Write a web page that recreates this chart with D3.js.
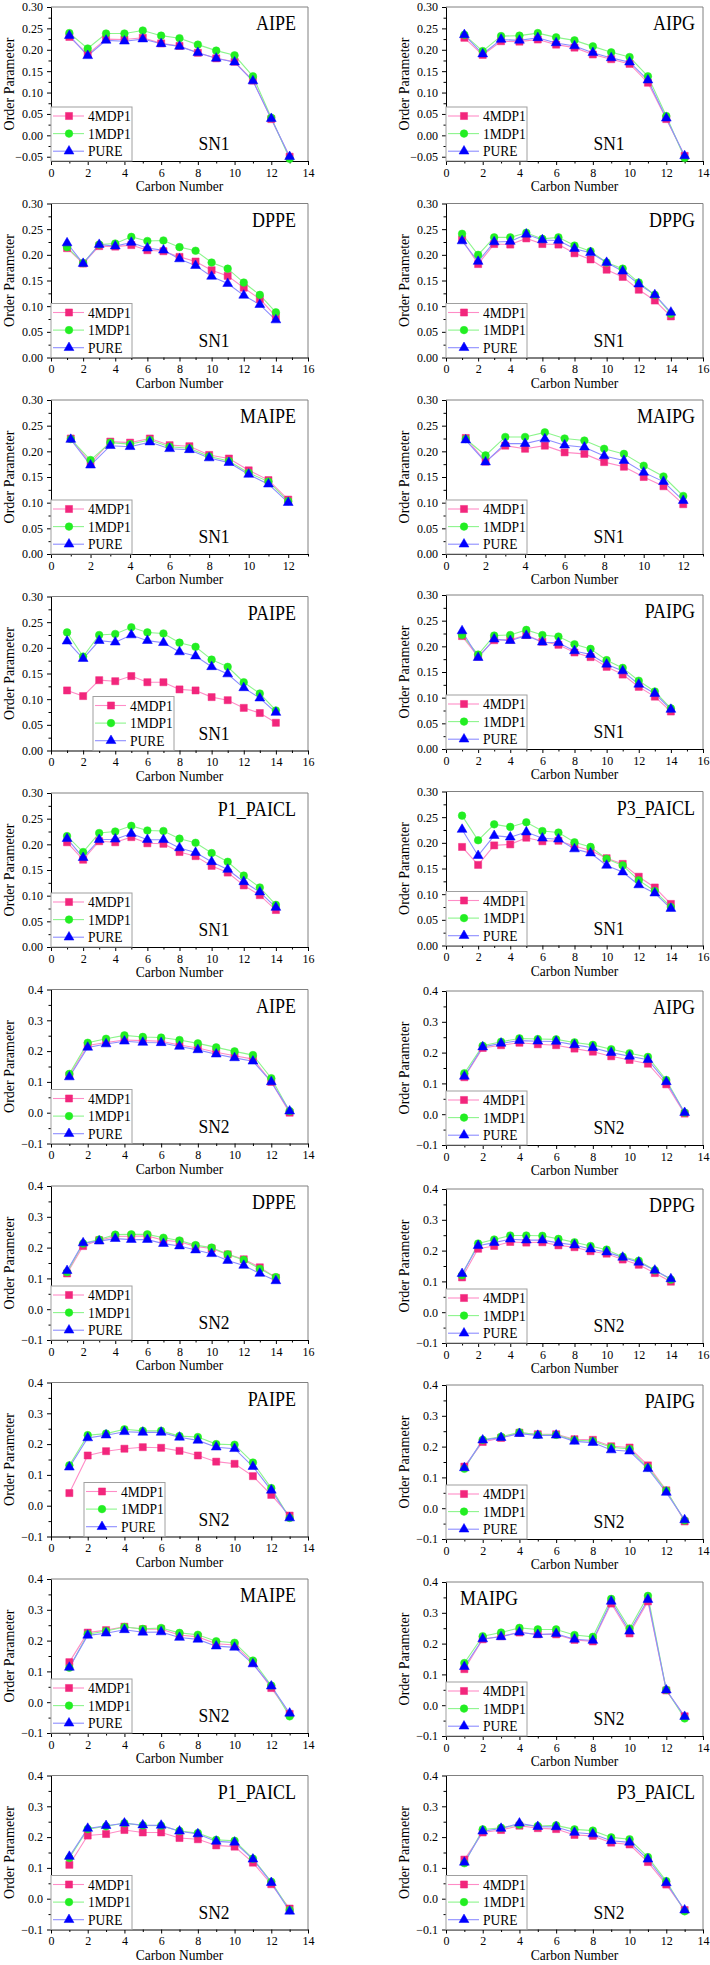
<!DOCTYPE html>
<html><head><meta charset="utf-8">
<script src="https://cdn.jsdelivr.net/npm/d3@7"></script>
<style>body{margin:0;background:#fff} svg text{font-family:"Liberation Serif","Times New Roman",serif;fill:#000}</style>
</head><body><svg id="c" width="710" height="1965"></svg>
<script>
// ---------------- DATA ----------------
const seriesNames = ["4MDP1", "1MDP1", "PURE"];
const panelTitles = ["AIPE","AIPG","DPPE","DPPG","MAIPE","MAIPG","PAIPE","PAIPG","P1_PAICL","P3_PAICL",
                     "AIPE","AIPG","DPPE","DPPG","PAIPE","PAIPG","MAIPE","MAIPG","P1_PAICL","P3_PAICL"];
const chainLabels = ["SN1","SN1","SN1","SN1","SN1","SN1","SN1","SN1","SN1","SN1",
                     "SN2","SN2","SN2","SN2","SN2","SN2","SN2","SN2","SN2","SN2"];
const xAxisMax = [14,14,16,16,13,13,16,16,16,16, 14,14,16,16,14,14,14,14,14,14];
const yTicksSN1a = [-0.05,0.00,0.05,0.10,0.15,0.20,0.25,0.30];
const yTicksSN1b = [0.00,0.05,0.10,0.15,0.20,0.25,0.30];
const yTicksSN2  = [-0.1,0.0,0.1,0.2,0.3,0.4];

// each: [4MDP1, 1MDP1, PURE], carbon number = index + 1
const AIPE_SN1 = [
 [0.230,0.190,0.225,0.224,0.228,0.215,0.209,0.193,0.180,0.172,0.128,0.038,-0.050],
 [0.239,0.203,0.238,0.238,0.245,0.233,0.227,0.212,0.198,0.187,0.138,0.041,-0.055],
 [0.233,0.186,0.222,0.220,0.225,0.214,0.208,0.193,0.180,0.171,0.127,0.039,-0.050]];
const AIPG_SN1 = [
 [0.228,0.188,0.220,0.219,0.224,0.212,0.205,0.189,0.178,0.167,0.123,0.038,-0.048],
 [0.235,0.197,0.232,0.233,0.239,0.229,0.222,0.208,0.194,0.183,0.138,0.045,-0.053],
 [0.235,0.190,0.224,0.222,0.228,0.216,0.209,0.193,0.181,0.171,0.129,0.040,-0.048]];
const DPPE_SN1 = [
 [0.213,0.183,0.217,0.216,0.219,0.209,0.207,0.196,0.187,0.170,0.159,0.136,0.114,0.080],
 [0.215,0.184,0.220,0.222,0.235,0.227,0.228,0.215,0.208,0.185,0.173,0.146,0.122,0.088],
 [0.223,0.183,0.220,0.217,0.224,0.213,0.209,0.192,0.179,0.158,0.144,0.121,0.103,0.073]];
const DPPG_SN1 = [
 [0.230,0.182,0.221,0.220,0.232,0.221,0.220,0.203,0.191,0.171,0.157,0.132,0.111,0.080],
 [0.241,0.200,0.234,0.234,0.243,0.231,0.234,0.218,0.207,0.185,0.173,0.146,0.122,0.085],
 [0.227,0.187,0.225,0.226,0.240,0.229,0.228,0.212,0.204,0.185,0.168,0.143,0.122,0.088]];
const MAIPE_SN1 = [
 [0.225,0.177,0.219,0.217,0.225,0.212,0.210,0.193,0.186,0.163,0.144,0.106],
 [0.224,0.183,0.217,0.214,0.222,0.209,0.206,0.190,0.181,0.158,0.141,0.103],
 [0.223,0.173,0.211,0.209,0.218,0.205,0.203,0.187,0.178,0.155,0.136,0.100]];
const MAIPG_SN1 = [
 [0.226,0.180,0.211,0.205,0.211,0.198,0.195,0.179,0.170,0.150,0.132,0.097],
 [0.224,0.192,0.228,0.228,0.237,0.225,0.221,0.205,0.195,0.172,0.151,0.113],
 [0.222,0.179,0.215,0.215,0.224,0.212,0.208,0.191,0.182,0.159,0.141,0.104]];
const PAIPE_SN1 = [
 [0.117,0.106,0.137,0.135,0.145,0.133,0.133,0.119,0.117,0.104,0.098,0.083,0.073,0.054],
 [0.230,0.183,0.225,0.227,0.240,0.230,0.228,0.210,0.202,0.177,0.163,0.133,0.111,0.078],
 [0.213,0.179,0.214,0.211,0.225,0.214,0.210,0.192,0.184,0.163,0.149,0.122,0.102,0.074]];
const PAIPG_SN1 = [
 [0.220,0.180,0.212,0.213,0.222,0.209,0.203,0.188,0.179,0.160,0.145,0.121,0.102,0.073],
 [0.222,0.184,0.221,0.222,0.232,0.222,0.219,0.204,0.195,0.173,0.158,0.133,0.112,0.079],
 [0.230,0.178,0.214,0.211,0.221,0.208,0.207,0.191,0.184,0.165,0.152,0.126,0.108,0.077]];
const P1_PAICL_SN1 = [
 [0.204,0.170,0.206,0.204,0.214,0.202,0.201,0.185,0.177,0.158,0.145,0.120,0.101,0.072],
 [0.216,0.185,0.222,0.225,0.236,0.227,0.226,0.211,0.203,0.183,0.166,0.139,0.116,0.082],
 [0.211,0.174,0.209,0.210,0.221,0.209,0.209,0.193,0.184,0.166,0.151,0.127,0.107,0.077]];
const P3_PAICL_SN1 = [
 [0.192,0.157,0.195,0.197,0.210,0.203,0.204,0.194,0.185,0.170,0.159,0.134,0.113,0.081],
 [0.253,0.205,0.236,0.231,0.240,0.223,0.220,0.201,0.192,0.169,0.156,0.127,0.106,0.075],
 [0.226,0.175,0.214,0.211,0.221,0.209,0.207,0.188,0.180,0.156,0.143,0.118,0.102,0.072]];
const AIPE_SN2 = [
 [0.121,0.218,0.228,0.236,0.234,0.232,0.220,0.210,0.196,0.185,0.174,0.100,0.000],
 [0.126,0.227,0.240,0.251,0.246,0.244,0.236,0.225,0.212,0.199,0.187,0.112,0.005],
 [0.116,0.212,0.223,0.232,0.228,0.227,0.215,0.204,0.190,0.178,0.167,0.100,0.005]];
const AIPG_SN2 = [
 [0.120,0.215,0.224,0.232,0.227,0.224,0.213,0.203,0.188,0.176,0.164,0.097,0.002],
 [0.133,0.222,0.235,0.246,0.244,0.243,0.233,0.225,0.211,0.198,0.186,0.111,0.005],
 [0.123,0.218,0.230,0.239,0.237,0.236,0.225,0.216,0.200,0.188,0.177,0.105,0.005]];
const DPPE_SN2 = [
 [0.116,0.205,0.224,0.236,0.237,0.238,0.224,0.219,0.204,0.197,0.178,0.162,0.136,0.102],
 [0.120,0.213,0.226,0.242,0.243,0.243,0.232,0.223,0.208,0.200,0.178,0.160,0.131,0.104],
 [0.125,0.215,0.221,0.229,0.226,0.226,0.213,0.205,0.192,0.180,0.158,0.142,0.116,0.092]];
const DPPG_SN2 = [
 [0.113,0.206,0.215,0.228,0.226,0.227,0.217,0.211,0.198,0.190,0.171,0.154,0.127,0.099],
 [0.120,0.223,0.236,0.249,0.249,0.248,0.238,0.227,0.215,0.203,0.180,0.167,0.136,0.106],
 [0.125,0.216,0.226,0.237,0.234,0.234,0.225,0.218,0.205,0.195,0.178,0.162,0.136,0.108]];
const PAIPE_SN2 = [
 [0.041,0.163,0.177,0.185,0.190,0.188,0.178,0.163,0.143,0.136,0.096,0.035,-0.032],
 [0.131,0.229,0.234,0.248,0.243,0.243,0.226,0.223,0.200,0.198,0.140,0.057,-0.040],
 [0.125,0.220,0.229,0.240,0.238,0.238,0.222,0.212,0.190,0.185,0.127,0.050,-0.040]];
const PAIPG_SN2 = [
 [0.135,0.215,0.228,0.245,0.240,0.240,0.224,0.222,0.201,0.197,0.139,0.058,-0.043],
 [0.128,0.222,0.232,0.246,0.238,0.238,0.221,0.218,0.198,0.192,0.132,0.057,-0.040],
 [0.131,0.221,0.229,0.242,0.236,0.237,0.217,0.213,0.189,0.185,0.128,0.051,-0.038]];
const MAIPE_SN2 = [
 [0.130,0.226,0.234,0.245,0.237,0.237,0.218,0.212,0.190,0.186,0.128,0.046,-0.038],
 [0.112,0.221,0.231,0.244,0.238,0.241,0.225,0.219,0.198,0.193,0.135,0.054,-0.046],
 [0.113,0.217,0.224,0.235,0.227,0.228,0.210,0.204,0.182,0.178,0.124,0.052,-0.036]];
const MAIPG_SN2 = [
 [0.117,0.214,0.224,0.236,0.230,0.230,0.212,0.207,0.330,0.233,0.337,0.048,-0.036],
 [0.137,0.224,0.236,0.251,0.246,0.246,0.228,0.222,0.345,0.249,0.355,0.050,-0.043],
 [0.125,0.215,0.222,0.237,0.229,0.232,0.214,0.210,0.337,0.240,0.343,0.049,-0.037]];
const P1_PAICL_SN2 = [
 [0.110,0.205,0.210,0.223,0.215,0.215,0.197,0.193,0.173,0.169,0.117,0.047,-0.032],
 [0.132,0.226,0.235,0.245,0.238,0.237,0.220,0.213,0.191,0.188,0.130,0.055,-0.037],
 [0.137,0.228,0.237,0.245,0.239,0.238,0.219,0.210,0.186,0.183,0.128,0.052,-0.041]];
const P3_PAICL_SN2 = [
 [0.127,0.215,0.223,0.237,0.229,0.226,0.207,0.204,0.182,0.176,0.119,0.046,-0.037],
 [0.115,0.225,0.230,0.240,0.236,0.238,0.225,0.221,0.199,0.193,0.135,0.057,-0.041],
 [0.118,0.219,0.228,0.245,0.234,0.233,0.215,0.210,0.188,0.183,0.128,0.051,-0.037]];

const panelData = [AIPE_SN1, AIPG_SN1, DPPE_SN1, DPPG_SN1, MAIPE_SN1, MAIPG_SN1, PAIPE_SN1, PAIPG_SN1, P1_PAICL_SN1, P3_PAICL_SN1,
                   AIPE_SN2, AIPG_SN2, DPPE_SN2, DPPG_SN2, PAIPE_SN2, PAIPG_SN2, MAIPE_SN2, MAIPG_SN2, P1_PAICL_SN2, P3_PAICL_SN2];

// ---------------- STYLE / LAYOUT ----------------
const markerColors = ["#f2267c", "#22ee22", "#0000ff"];
const lineColors   = ["#ff8cc6", "#8cf58c", "#8c8cff"];
const symbols = [d3.symbolSquare, d3.symbolCircle, d3.symbolTriangle];
const symSizes = [50, 46, 42];
const colLeft = [51, 446];
const rightRowShift = [0, 0, 0, -1.5, -1.5, 1.5, 3, 2.5, 3, 0];
const W = 257, H = 154;
const SY = 1.12;

const svg = d3.select("#c");

function stext(g, x, y, str, size, anchor) {
  return g.append("text")
    .attr("transform", `translate(${x},${y}) scale(1,${SY})`)
    .attr("text-anchor", anchor)
    .attr("font-size", size)
    .text(str);
}

panelData.forEach((series, i) => {
  const row = Math.floor(i / 2), col = i % 2;
  const left = colLeft[col];
  const bottom = 161 + 196.5 * row + (col === 1 ? rightRowShift[row] : 0);
  const top = bottom - H;
  const isSN2 = i >= 10;
  let yDomain, yTicks, fmt;
  if (isSN2) { yDomain = [-0.1, 0.4]; yTicks = yTicksSN2; fmt = ".1f"; }
  else if (row === 0) { yDomain = [-0.06, 0.30]; yTicks = yTicksSN1a; fmt = ".2f"; }
  else { yDomain = [0, 0.30]; yTicks = yTicksSN1b; fmt = ".2f"; }
  const yStep = yTicks[1] - yTicks[0];
  const yMinor = [];
  for (let k = 0; k < yTicks.length - 1; k++) yMinor.push((yTicks[k] + yTicks[k + 1]) / 2);
  if (yTicks[0] - yStep / 2 >= yDomain[0] - 1e-9) yMinor.unshift(yTicks[0] - yStep / 2);

  const xMax = xAxisMax[i];
  const xMajor = d3.range(0, xMax + 0.01, 2);
  const xMinor = d3.range(1, xMax + 0.01, 2);

  const x = d3.scaleLinear().domain([0, xMax]).range([left, left + W]);
  const y = d3.scaleLinear().domain(yDomain).range([bottom, top]);

  const g = svg.append("g");

  // frame top & right
  g.append("line").attr("x1", left).attr("x2", left + W).attr("y1", top).attr("y2", top)
    .attr("stroke", "#808080").attr("stroke-width", 1);
  g.append("line").attr("x1", left + W).attr("x2", left + W).attr("y1", top).attr("y2", bottom)
    .attr("stroke", "#808080").attr("stroke-width", 1);

  // axes
  const ax = g.append("g").attr("transform", `translate(0,${bottom})`)
    .call(d3.axisBottom(x).tickValues(xMajor).tickSize(4).tickSizeOuter(0).tickPadding(3).tickFormat(d3.format("d")));
  g.append("g").attr("transform", `translate(0,${bottom})`)
    .call(d3.axisBottom(x).tickValues(xMinor).tickSize(2.5).tickSizeOuter(0).tickFormat(""))
    .select(".domain").remove();
  const ay = g.append("g").attr("transform", `translate(${left},0)`)
    .call(d3.axisLeft(y).tickValues(yTicks).tickSize(4).tickSizeOuter(0).tickPadding(4).tickFormat(d3.format(fmt)));
  g.append("g").attr("transform", `translate(${left},0)`)
    .call(d3.axisLeft(y).tickValues(yMinor).tickSize(2.5).tickSizeOuter(0).tickFormat(""))
    .select(".domain").remove();
  [ax, ay].forEach(a => {
    a.attr("font-family", null).attr("font-size", null);
    a.selectAll("text").attr("font-size", 12).attr("fill", "#000");
  });
  g.selectAll(".domain, .tick line").attr("stroke", "#000").attr("stroke-width", 1);

  // data lines + markers
  const line = d3.line().x((d, k) => x(k + 1)).y(d => y(d));
  series.forEach((vals, s) => {
    g.append("path").datum(vals).attr("d", line)
      .attr("fill", "none").attr("stroke", lineColors[s]).attr("stroke-width", 1.1);
  });
  series.forEach((vals, s) => {
    g.selectAll(null).data(vals).enter().append("path")
      .attr("d", d3.symbol().type(symbols[s]).size(symSizes[s]))
      .attr("transform", (d, k) => `translate(${x(k + 1)},${y(d)})`)
      .attr("fill", markerColors[s]).attr("stroke", markerColors[s]).attr("stroke-width", 0.5);
  });

  // legend
  let ldx = 0;
  if (i === 6) ldx = 42;
  if (i === 14) ldx = 33;
  const lx = left + ldx, lw = 81, lh = 54;
  const lg = g.append("g");
  lg.append("rect").attr("x", lx).attr("y", bottom - lh).attr("width", lw).attr("height", lh)
    .attr("fill", "#fff").attr("stroke", "#a0a0a0").attr("stroke-width", 1);
  seriesNames.forEach((nm, s) => {
    const cy = bottom - 45 + s * 17.6;
    lg.append("line").attr("x1", lx + 2).attr("x2", lx + 33).attr("y1", cy).attr("y2", cy)
      .attr("stroke", lineColors[s]).attr("stroke-width", 1.1);
    lg.append("path").attr("d", d3.symbol().type(symbols[s]).size(symSizes[s]))
      .attr("transform", `translate(${lx + 18},${cy})`)
      .attr("fill", markerColors[s]).attr("stroke", markerColors[s]).attr("stroke-width", 0.5);
    stext(lg, lx + 37, cy + 5, nm, 13.5, "start");
  });

  // titles
  if (i === 17) stext(g, left + 14, top + 23, panelTitles[i], 18, "start");
  else stext(g, left + W - (col === 0 ? 12 : 8), top + 23, panelTitles[i], 18, "end");
  stext(g, left + 163, bottom - 11, chainLabels[i], 17.5, "middle");

  // axis titles
  stext(g, left + W / 2, bottom + 30, "Carbon Number", 13.5, "middle");
  g.append("text").attr("transform", `translate(${left - 37.5},${top + H / 2}) rotate(-90)`)
    .attr("text-anchor", "middle").attr("font-size", 14).text("Order Parameter");
});
</script>
</body></html>
